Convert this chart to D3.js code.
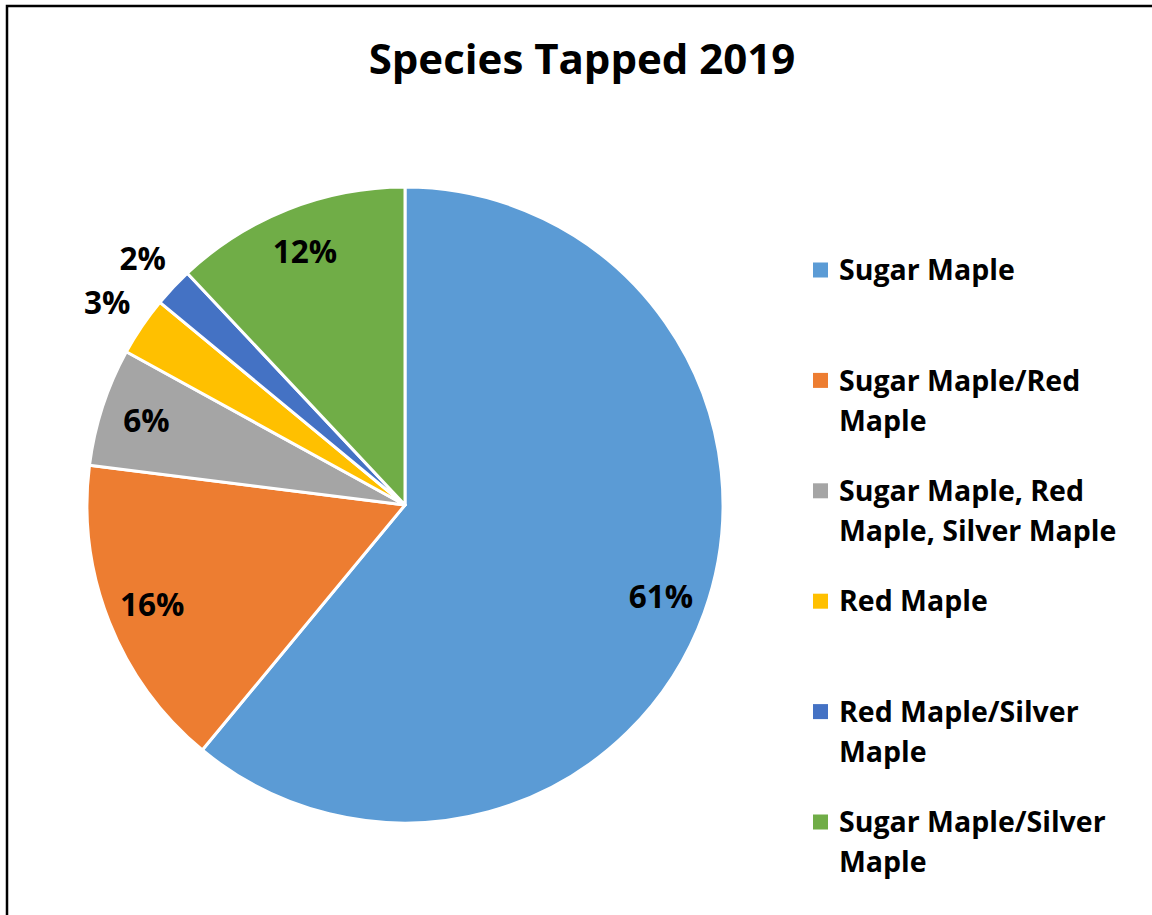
<!DOCTYPE html>
<html>
<head>
<meta charset="utf-8">
<script src="https://cdn.jsdelivr.net/npm/d3@7/dist/d3.min.js"></script>
<style>
  html, body { margin: 0; padding: 0; background: #fff; }
  svg { display: block; }
  text { font-family: "Open Sans", Lato, sans-serif; font-weight: 700; fill: #000; }
</style>
</head>
<body>
<svg id="chart" width="1152" height="915"></svg>
<script>
const title = "Species Tapped 2019";
const categories = [
  "Sugar Maple",
  "Sugar Maple/Red Maple",
  "Sugar Maple, Red Maple, Silver Maple",
  "Red Maple",
  "Red Maple/Silver Maple",
  "Sugar Maple/Silver Maple"
];
const values = [61, 16, 6, 3, 2, 12];
const colors = ["#5B9BD5", "#ED7D31", "#A5A5A5", "#FFC000", "#4472C4", "#70AD47"];

const W = 1152, H = 915;
const svg = d3.select("#chart");

// frame
svg.append("rect")
  .attr("x", 7).attr("y", 6)
  .attr("width", 1160).attr("height", 930)
  .attr("fill", "#fff")
  .attr("stroke", "#000").attr("stroke-width", 2.5);

// title
svg.append("text")
  .attr("x", 582).attr("y", 74)
  .attr("text-anchor", "middle")
  .style("font-size", "42px")
  .text(title);

const cx = 405, cy = 505, R = 318;
const data = categories.map((c, i) => ({ name: c, value: values[i], color: colors[i] }));
const pie = d3.pie().value(d => d.value).sort(null);
const arcs = pie(data);
const arc = d3.arc().innerRadius(0).outerRadius(R);
const inLabelArc = d3.arc().innerRadius(272).outerRadius(272);
const outLabelArc = d3.arc().innerRadius(360).outerRadius(360);

const g = svg.append("g").attr("transform", `translate(${cx},${cy})`);
g.selectAll("path.slice").data(arcs).join("path")
  .attr("class", "slice")
  .attr("d", arc)
  .attr("fill", d => d.data.color)
  .attr("stroke", "#fff")
  .attr("stroke-width", 3)
  .attr("stroke-linejoin", "round");

const total = d3.sum(values);
g.selectAll("text.lbl").data(arcs).join("text")
  .attr("class", "lbl")
  .attr("transform", d => {
    const p = (d.data.value / total < 0.04 ? outLabelArc : inLabelArc).centroid(d);
    return `translate(${p[0]},${p[1]})`;
  })
  .attr("text-anchor", "middle")
  .attr("dy", "0.36em")
  .style("font-size", "31.5px")
  .text(d => Math.round(d.data.value / total * 100) + "%");

// legend
const legX = 813, legTextX = 839, legY0 = 270, legStep = 110.4, lineH = 40, maxW = 300;
const leg = svg.append("g");
data.forEach((d, i) => {
  const y = legY0 + i * legStep;
  leg.append("rect")
    .attr("x", legX).attr("y", y - 7.5)
    .attr("width", 15).attr("height", 15)
    .attr("fill", d.color);
  const t = leg.append("text")
    .attr("x", legTextX).attr("y", y)
    .style("font-size", "28.5px");
  // word wrap
  const words = d.name.split(" ");
  let line = [];
  let lineNo = 0;
  let tspan = t.append("tspan").attr("x", legTextX).attr("y", y);
  words.forEach(w => {
    line.push(w);
    tspan.text(line.join(" "));
    if (tspan.node().getComputedTextLength() > maxW && line.length > 1) {
      line.pop();
      tspan.text(line.join(" "));
      line = [w];
      lineNo++;
      tspan = t.append("tspan").attr("x", legTextX).attr("y", y + lineNo * lineH).text(w);
    }
  });
  t.selectAll("tspan").attr("dy", "0.36em");
});
</script>
</body>
</html>
